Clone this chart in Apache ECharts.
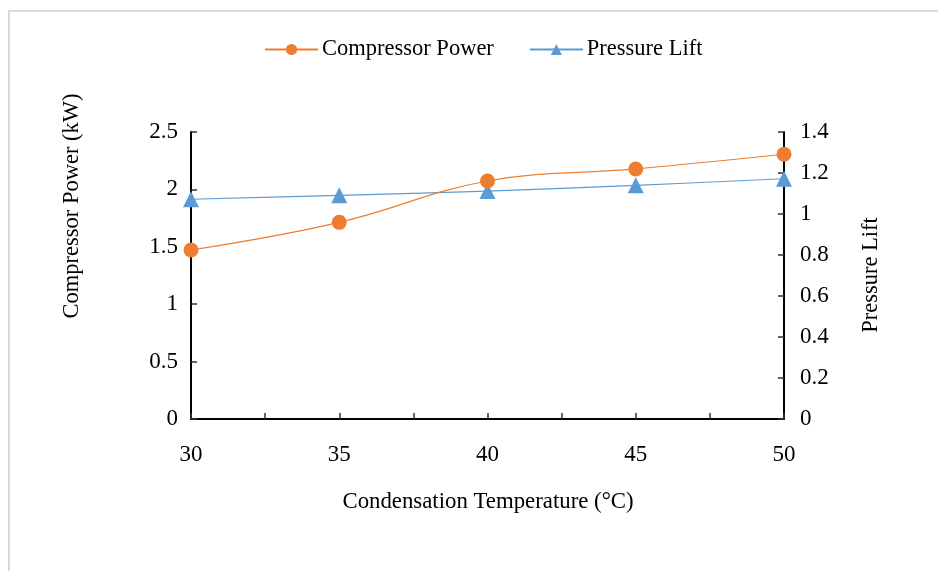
<!DOCTYPE html>
<html>
<head>
<meta charset="utf-8">
<script src="https://cdn.jsdelivr.net/npm/echarts@6/dist/echarts.min.js"></script>
<style>
html,body{margin:0;padding:0;background:#fff;}
#chart{width:938px;height:571px;}
</style>
</head>
<body>
<div id="chart"></div>
<script>
const temperatures = [30, 35, 40, 45, 50];
const compressorPower = [1.472, 1.713, 2.073, 2.178, 2.306];
const pressureLift = [1.072, 1.091, 1.112, 1.140, 1.172];
const leftTicks = { min: 0, max: 2.5, interval: 0.5 };
const rightTicks = { min: 0, max: 1.4, interval: 0.2 };
const xTicks = { min: 30, max: 50, interval: 5 };

const FONT = "'Liberation Serif','Times New Roman',serif";
const chart = echarts.init(document.getElementById('chart'), null, { renderer: 'canvas' });

const axisLineStyle = { show: true, lineStyle: { color: '#000', width: 2 } };
const tickStyle = { show: true, inside: true, length: 6, lineStyle: { color: '#333', width: 1.5 } };
const labelStyle = { color: '#000', fontFamily: FONT, fontSize: 23 };

chart.setOption({
  animation: false,
  backgroundColor: '#fff',
  textStyle: { fontFamily: FONT },
  graphic: [
    { type: 'rect', silent: true, shape: { x: 9, y: 11, width: 1200, height: 1200 },
      style: { fill: 'none', stroke: '#d9d9d9', lineWidth: 2 } },
    { type: 'text', x: 72, y: 206, rotation: Math.PI / 2,
      style: { text: 'Compressor Power (kW)', fill: '#000', font: '22.5px ' + FONT, textAlign: 'center', textVerticalAlign: 'middle' } },
    { type: 'text', x: 871, y: 275, rotation: Math.PI / 2,
      style: { text: 'Pressure Lift', fill: '#000', font: '22.5px ' + FONT, textAlign: 'center', textVerticalAlign: 'middle' } },
    { type: 'text', x: 488, y: 502,
      style: { text: 'Condensation Temperature (°C)', fill: '#000', font: '22.8px ' + FONT, textAlign: 'center', textVerticalAlign: 'middle' } }
  ],
  legend: {
    top: 33,
    left: 259,
    itemWidth: 53,
    itemHeight: 14,
    itemGap: 35,
    textStyle: { color: '#000', fontFamily: FONT, fontSize: 22.5, padding: [0, 0, 0, -1] },
    data: ['Compressor Power', 'Pressure Lift']
  },
  grid: { left: 191, right: 154, top: 132, bottom: 152, containLabel: false },
  xAxis: {
    type: 'value',
    min: xTicks.min, max: xTicks.max, interval: xTicks.interval,
    axisLine: axisLineStyle,
    axisTick: tickStyle,
    minorTick: { show: true, splitNumber: 2, length: 6, lineStyle: { color: '#333', width: 1.5 } },
    axisLabel: Object.assign({ margin: 24 }, labelStyle),
    splitLine: { show: false },
    minorSplitLine: { show: false }
  },
  yAxis: [
    {
      type: 'value', position: 'left',
      min: leftTicks.min, max: leftTicks.max, interval: leftTicks.interval,
      axisLine: axisLineStyle,
      axisTick: tickStyle,
      axisLabel: Object.assign({ margin: 13 }, labelStyle),
      splitLine: { show: false }
    },
    {
      type: 'value', position: 'right',
      min: rightTicks.min, max: rightTicks.max, interval: rightTicks.interval,
      axisLine: axisLineStyle,
      axisTick: tickStyle,
      axisLabel: Object.assign({ margin: 16, formatter: v => String(+v.toFixed(1)) }, labelStyle),
      splitLine: { show: false }
    }
  ],
  series: [
    {
      name: 'Compressor Power', type: 'line', yAxisIndex: 0,
      data: temperatures.map((t, i) => [t, compressorPower[i]]),
      smooth: 0.4,
      symbol: 'circle', symbolSize: 15,
      itemStyle: { color: '#ED7D31' },
      lineStyle: { color: '#ED7D31', width: 1.2 },
      z: 3
    },
    {
      name: 'Pressure Lift', type: 'line', yAxisIndex: 1,
      data: temperatures.map((t, i) => [t, pressureLift[i]]),
      smooth: 0.4,
      symbol: 'triangle', symbolSize: 16,
      itemStyle: { color: '#5B9BD5' },
      lineStyle: { color: '#5B9BD5', width: 1.2 },
      z: 2
    }
  ]
});
</script>
</body>
</html>
